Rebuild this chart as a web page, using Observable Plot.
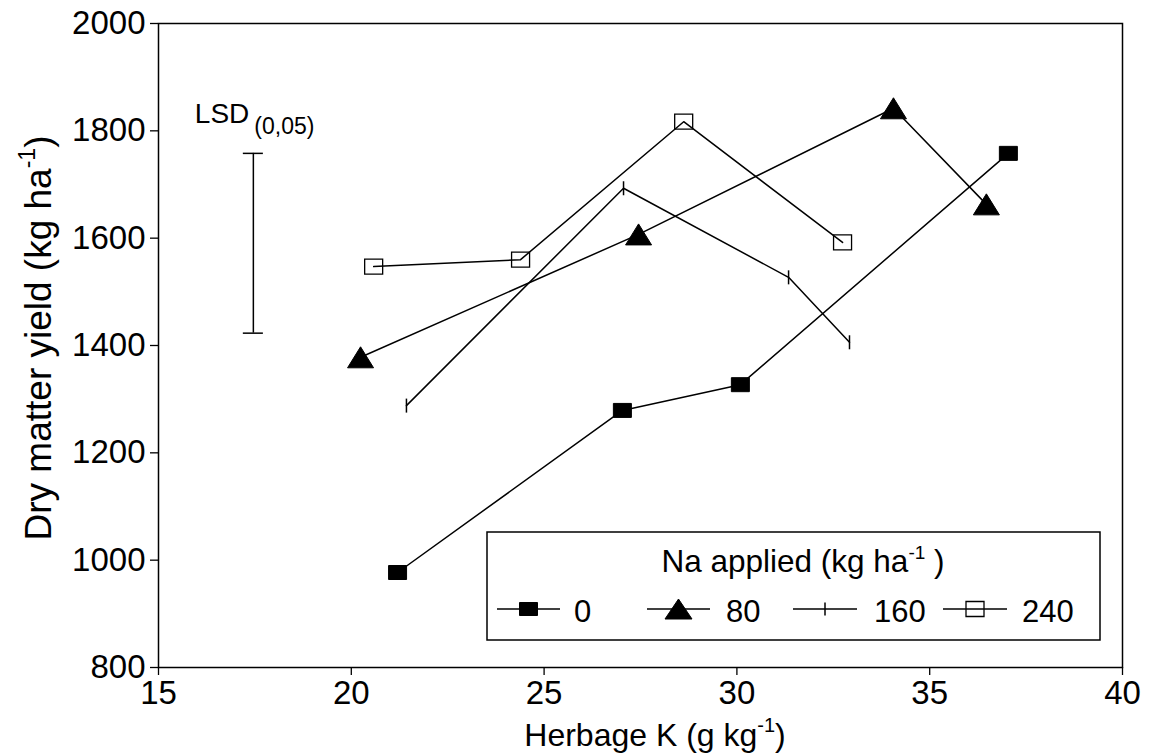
<!DOCTYPE html>
<html><head><meta charset="utf-8">
<script src="https://cdn.jsdelivr.net/npm/d3@7"></script>
<script src="https://cdn.jsdelivr.net/npm/@observablehq/plot@0.6"></script>
<style>
body{margin:0;background:#fff}
#chart{position:relative;width:1149px;height:755px}
</style>
</head><body><div id="chart"></div>
<script>
// ---- data ----
const naLevels = ["0", "80", "160", "240"];
const herbageK_0   = [21.2, 27.03, 30.09, 37.04];
const yield_0      = [977, 1279, 1327, 1758];
const herbageK_80  = [20.24, 27.45, 34.06, 36.47];
const yield_80     = [1378, 1607, 1842, 1663];
const herbageK_160 = [21.43, 27.06, 31.34, 32.92];
const yield_160    = [1288, 1693, 1527, 1406];
const herbageK_240 = [20.58, 24.39, 28.62, 32.74];
const yield_240    = [1547, 1560, 1817, 1592];
const lsdX = 17.46, lsdLow = 1423, lsdHigh = 1758;
const xTicks = [15, 20, 25, 30, 35, 40];
const yTicks = [800, 1000, 1200, 1400, 1600, 1800, 2000];

const xsByLevel = [herbageK_0, herbageK_80, herbageK_160, herbageK_240];
const ysByLevel = [yield_0, yield_80, yield_160, yield_240];
const rows = naLevels.flatMap((na, i) => xsByLevel[i].map((k, j) => ({na, k, y: ysByLevel[i][j]})));

// ---- symbols ----
const rectSym = (w, h) => ({draw(ctx) { ctx.moveTo(-w/2, -h/2); ctx.lineTo(w/2, -h/2); ctx.lineTo(w/2, h/2); ctx.lineTo(-w/2, h/2); ctx.closePath(); }});
const triSym = (w, h) => ({draw(ctx) { ctx.moveTo(0, -h/2); ctx.lineTo(w/2, h/2); ctx.lineTo(-w/2, h/2); ctx.closePath(); }});
const vTickSym = (h) => ({draw(ctx) { ctx.moveTo(0, -h/2); ctx.lineTo(0, h/2); }});
const styles = {
  "0":   {symbol: rectSym(18, 14), fill: "black", stroke: "black", strokeWidth: 1},
  "80":  {symbol: triSym(26, 21), fill: "black", stroke: "black", strokeWidth: 1},
  "160": {symbol: vTickSym(14), fill: "none", stroke: "black", strokeWidth: 1.5},
  "240": {symbol: rectSym(18, 15), fill: "none", stroke: "black", strokeWidth: 1.3}
};
const legendSymbols = {"0": rectSym(18, 13), "80": triSym(27, 20), "160": vTickSym(13), "240": rectSym(18, 15)};

const FONT = "'Liberation Sans', Arial, Helvetica, sans-serif";
const plot = Plot.plot({
  width: 1149, height: 755,
  marginLeft: 158, marginRight: 27, marginTop: 23, marginBottom: 88,
  x: {domain: [15, 40]},
  y: {domain: [800, 2000]},
  style: {fontFamily: FONT, fontSize: "32px", color: "black", background: "white", overflow: "visible"},
  marks: [
    Plot.frame({stroke: "black", strokeWidth: 1.5}),
    Plot.axisX({ticks: xTicks, tickSize: 8, tickPadding: 5, label: null, fontSize: 33, tickFormat: d => String(d), strokeWidth: 1.3}),
    Plot.axisY({ticks: yTicks, tickSize: 8, tickPadding: 5, label: null, fontSize: 33, tickFormat: d => String(d), strokeWidth: 1.3}),
    Plot.ruleX([0], {x: () => lsdX, y1: () => lsdLow, y2: () => lsdHigh, stroke: "black", strokeWidth: 1.5}),
    Plot.ruleY([lsdLow, lsdHigh], {y: d => d, x1: () => lsdX - 0.26, x2: () => lsdX + 0.26, stroke: "black", strokeWidth: 1.5}),
    Plot.line(rows, {x: "k", y: "y", z: "na", stroke: "black", strokeWidth: 1.5}),
    ...naLevels.map(na => Plot.dot(rows.filter(d => d.na === na), {x: "k", y: "y", r: 8, ...styles[na]}))
  ]
});

const chart = document.getElementById("chart");
chart.appendChild(plot);
const svg = d3.select(plot);
const sx = plot.scale("x");

// Axis labels with superscripts
const yl = svg.append("text").attr("transform", "translate(51,338) rotate(-90)")
  .attr("text-anchor", "middle").attr("font-family", FONT).attr("font-size", 37).attr("fill", "black");
yl.append("tspan").text("Dry matter yield (kg ha");
yl.append("tspan").attr("font-size", 23).attr("dy", -16).text("-1");
yl.append("tspan").attr("dy", 16).text(")");

const xl = svg.append("text").attr("x", 655).attr("y", 746)
  .attr("text-anchor", "middle").attr("font-family", FONT).attr("font-size", 32).attr("fill", "black");
xl.append("tspan").text("Herbage K (g kg");
xl.append("tspan").attr("font-size", 20).attr("dy", -14).text("-1");
xl.append("tspan").attr("dy", 14).text(")");

// LSD label
const lsdT = svg.append("text").attr("text-anchor", "start").attr("x", sx.apply(lsdX) - 58).attr("y", 123)
  .attr("font-family", FONT).attr("font-size", 28).attr("fill", "black");
lsdT.append("tspan").text("LSD");
lsdT.append("tspan").attr("font-size", 23).attr("dy", 11).attr("dx", 5).text("(0,05)");

// Legend
const lg = svg.append("g").attr("font-family", FONT).attr("fill", "black").attr("text-anchor", "start");
lg.append("rect").attr("x", 487).attr("y", 532).attr("width", 613).attr("height", 108)
  .attr("fill", "white").attr("stroke", "black").attr("stroke-width", 1.5);
const lt = lg.append("text").attr("x", 803).attr("y", 572).attr("text-anchor", "middle").attr("font-size", 31.5);
lt.append("tspan").text("Na applied (kg ha");
lt.append("tspan").attr("font-size", 19).attr("dy", -13).text("-1");
lt.append("tspan").attr("dy", 13).text(" )");
const legendItems = [
  {na: "0", x0: 497, x1: 560, label: 574},
  {na: "80", x0: 647, x1: 710, label: 726},
  {na: "160", x0: 793, x1: 857, label: 874},
  {na: "240", x0: 943, x1: 1007, label: 1022}
];
const legY = 609;
legendItems.forEach(it => {
  lg.append("line").attr("x1", it.x0).attr("x2", it.x1).attr("y1", legY).attr("y2", legY)
    .attr("stroke", "black").attr("stroke-width", 1.5);
  const st = styles[it.na];
  lg.append("path").attr("transform", `translate(${(it.x0 + it.x1) / 2},${legY})`)
    .attr("d", d3.symbol(legendSymbols[it.na], 64)())
    .attr("fill", st.fill).attr("stroke", "black").attr("stroke-width", st.strokeWidth);
  lg.append("text").attr("x", it.label).attr("y", 622).attr("font-size", 31).text(it.na);
});
</script>
</body></html>
